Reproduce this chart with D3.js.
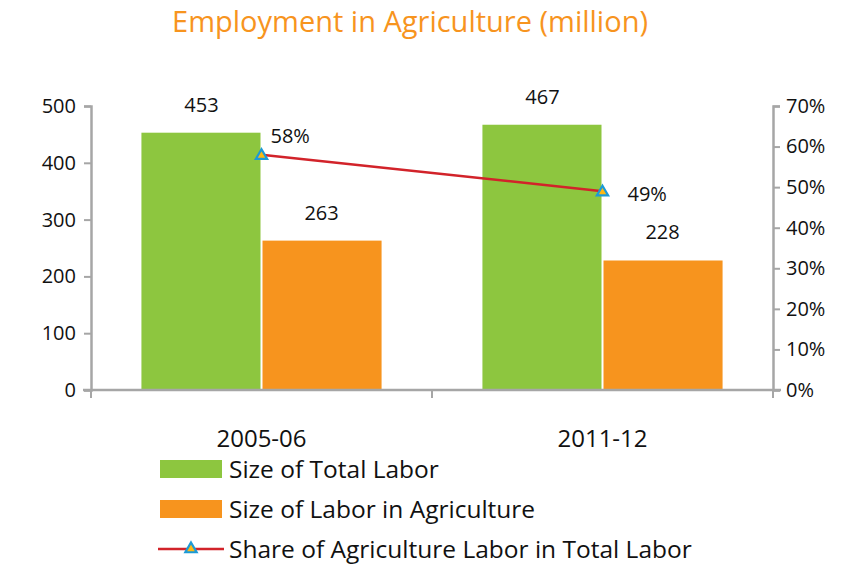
<!DOCTYPE html>
<html>
<head>
<meta charset="utf-8">
<script src="https://cdn.jsdelivr.net/npm/d3@7"></script>
<style>
  body { margin: 0; background: #fff; }
  text { font-family: "Open Sans", "DejaVu Sans", sans-serif; fill: #111; }
</style>
</head>
<body>
<svg width="845" height="567"></svg>
<script>
// chart data
var periods = ["2005-06", "2011-12"];
var totalLabor = [453, 467];
var agriLabor = [263, 228];
var agriShare = [0.58, 0.49];
var leftTicks = [0, 100, 200, 300, 400, 500];
var rightTicks = [0, 0.1, 0.2, 0.3, 0.4, 0.5, 0.6, 0.7];
var seriesNames = ["Size of Total Labor", "Size of Labor in Agriculture", "Share of Agriculture Labor in Total Labor"];

var green = "#8DC63F", orange = "#F7941E", red = "#D2232A";
var axisGray = "#A6A6A6";

var svg = d3.select("svg");

var x0 = 91, x1 = 773, yBottom = 390, yTop = 106;

var x = d3.scaleBand().domain(periods).range([x0, x1]);
var xs = d3.scaleBand().domain(["total", "agri"]).range([0, x.bandwidth()]).paddingOuter(0.42).paddingInner(0);
var yL = d3.scaleLinear().domain([0, 500]).range([yBottom, yTop]);
var yR = d3.scaleLinear().domain([0, 0.7]).range([yBottom, yTop]);

// title
svg.append("text")
    .attr("x", 410).attr("y", 32)
    .attr("text-anchor", "middle")
    .style("font-size", "29px")
    .style("fill", "#F7941E")
    .text("Employment in Agriculture (million)");

// bars
var rows = periods.map(function (p, i) {
    return {period: p, total: totalLabor[i], agri: agriLabor[i], share: agriShare[i]};
});

var groups = svg.append("g").selectAll("g")
    .data(rows).enter().append("g")
    .attr("transform", d => "translate(" + x(d.period) + ",0)");

groups.append("rect")
    .attr("x", xs("total"))
    .attr("width", xs.bandwidth() - 1)
    .attr("y", d => yL(d.total))
    .attr("height", d => yBottom - yL(d.total))
    .attr("fill", green);

groups.append("rect")
    .attr("x", xs("agri") + 1)
    .attr("width", xs.bandwidth() - 1)
    .attr("y", d => yL(d.agri))
    .attr("height", d => yBottom - yL(d.agri))
    .attr("fill", orange);

groups.append("text")
    .attr("x", xs("total") + xs.bandwidth() / 2)
    .attr("y", d => yL(d.total) - 21)
    .attr("text-anchor", "middle")
    .style("font-size", "20px")
    .text(d => d.total);

groups.append("text")
    .attr("x", xs("agri") + xs.bandwidth() / 2)
    .attr("y", d => yL(d.agri) - 21)
    .attr("text-anchor", "middle")
    .style("font-size", "20px")
    .text(d => d.agri);

// axes
function styleAxis(g) {
    g.select(".domain").attr("stroke", axisGray).attr("stroke-width", 2.5);
    g.selectAll(".tick line").attr("stroke", axisGray).attr("stroke-width", 2);
    g.selectAll(".tick text").style("font-size", "20px")
        .style("font-family", "'Open Sans', sans-serif").attr("fill", "#111");
}

svg.append("g")
    .attr("transform", "translate(" + x0 + ",0)")
    .call(d3.axisLeft(yL).tickValues(leftTicks).tickSize(7).tickSizeOuter(7).tickPadding(8))
    .call(styleAxis);

svg.append("g")
    .attr("transform", "translate(" + x1 + ",0)")
    .call(d3.axisRight(yR).tickValues(rightTicks).tickFormat(d3.format(".0%")).tickSize(7).tickSizeOuter(7).tickPadding(6))
    .call(styleAxis);

// x axis with ticks at category boundaries
var xAxis = svg.append("g").attr("transform", "translate(0," + yBottom + ")");
xAxis.append("line")
    .attr("x1", x0 - 8).attr("x2", x1 + 8)
    .attr("stroke", axisGray).attr("stroke-width", 2.5);
var bounds = [x0].concat(periods.map(p => x(p) + x.bandwidth()));
xAxis.selectAll(".xt").data(bounds).enter().append("line")
    .attr("x1", d => d).attr("x2", d => d)
    .attr("y1", 0).attr("y2", 8)
    .attr("stroke", axisGray).attr("stroke-width", 2);
xAxis.selectAll(".xl").data(periods).enter().append("text")
    .attr("x", d => x(d) + x.bandwidth() / 2)
    .attr("y", 57)
    .attr("text-anchor", "middle")
    .style("font-size", "24px")
    .text(d => d);

// share line
var line = d3.line()
    .x(d => x(d.period) + x.bandwidth() / 2)
    .y(d => yR(d.share));

svg.append("path")
    .datum(rows)
    .attr("d", line)
    .attr("fill", "none")
    .attr("stroke", red)
    .attr("stroke-width", 2.5);

var tri = d3.symbol().type(d3.symbolTriangle).size(55);

function marker(sel) {
    sel.append("path")
        .attr("d", tri)
        .attr("fill", "#FDB913")
        .attr("stroke", "#1C9AD6")
        .attr("stroke-width", 2.2);
}

svg.append("g").selectAll("g")
    .data(rows).enter().append("g")
    .attr("transform", d => "translate(" + (x(d.period) + x.bandwidth() / 2) + "," + (yR(d.share) + 1) + ")")
    .call(marker);

svg.append("g").selectAll("text")
    .data(rows).enter().append("text")
    .attr("x", (d, i) => x(d.period) + x.bandwidth() / 2 + (i === 0 ? 9 : 25))
    .attr("y", (d, i) => yR(d.share) + (i === 0 ? -12 : 10))
    .style("font-size", "20px")
    .text(d => d3.format(".0%")(d.share));

// legend
var legend = svg.append("g").attr("transform", "translate(160,469)");
var legRows = legend.selectAll("g").data(seriesNames).enter().append("g")
    .attr("transform", (d, i) => "translate(0," + i * 40 + ")");

legRows.filter((d, i) => i < 2).append("rect")
    .attr("x", 0).attr("y", -9).attr("width", 62).attr("height", 18)
    .attr("fill", (d, i) => i === 0 ? green : orange);

var lineRow = legRows.filter((d, i) => i === 2);
lineRow.append("line")
    .attr("x1", -2).attr("x2", 64).attr("y1", 0).attr("y2", 0)
    .attr("stroke", red).attr("stroke-width", 2.5);
lineRow.append("g").attr("transform", "translate(31,0)").call(marker);

legRows.append("text")
    .attr("x", 69).attr("y", 9)
    .style("font-size", "24.5px")
    .text(d => d);
</script>
</body>
</html>
